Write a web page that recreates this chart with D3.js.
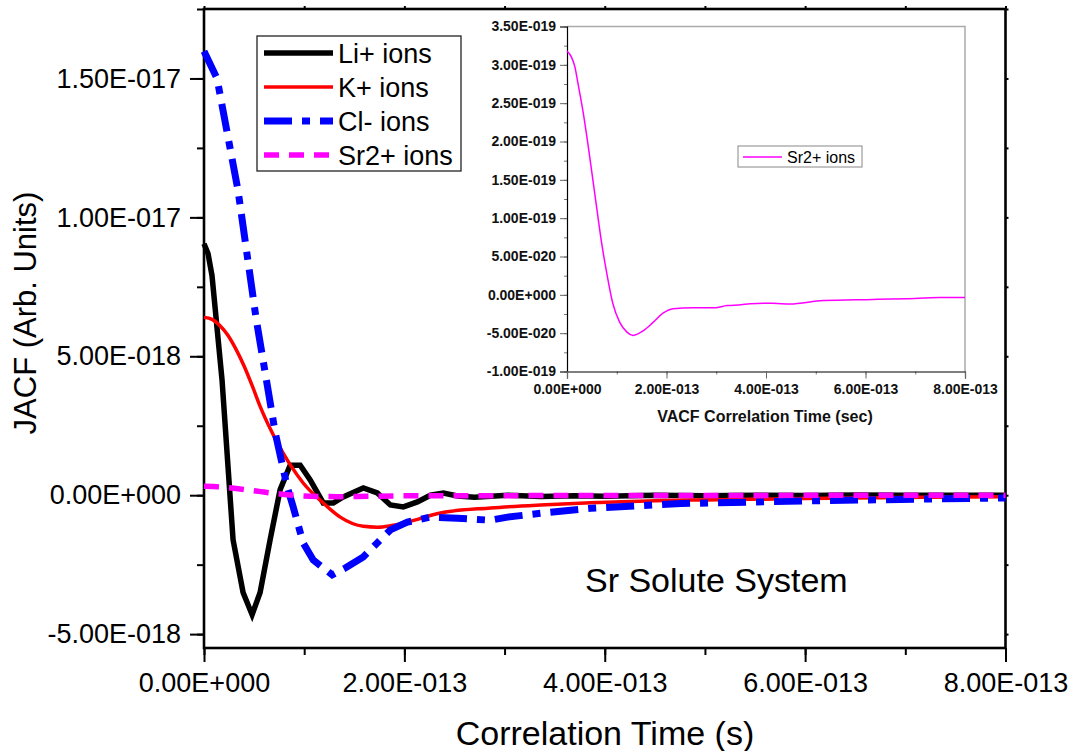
<!DOCTYPE html>
<html>
<head>
<meta charset="utf-8">
<script src="https://cdn.jsdelivr.net/npm/d3@7"></script>
<style>
  html, body { margin: 0; padding: 0; background: #fff; }
  svg { display: block; font-family: Arial, "Liberation Sans", sans-serif; }
</style>
</head>
<body>
<svg id="chart" width="1073" height="751"></svg>
<script>
// ---------------- DATA ----------------
// Main chart: time in fs (1e-15 s), JACF values in units of 1e-18
const liTime = [0, 4, 8, 18, 29, 39, 48, 56, 66, 76, 86, 96, 106, 119, 129, 139, 159, 173, 186, 199, 213, 226, 239, 253, 270, 303, 336, 370, 400, 450, 500, 550, 600, 650, 700, 750, 800];
const liVals = [9.05, 8.7, 7.9, 4.15, -1.6, -3.5, -4.3, -3.5, -1.6, 0.2, 1.08, 1.08, 0.55, -0.28, -0.28, -0.06, 0.26, 0.08, -0.35, -0.42, -0.24, 0.0, 0.08, -0.03, -0.07, 0.0, -0.05, -0.02, -0.04, 0.0, -0.02, 0.0, -0.01, 0.01, 0.0, 0.0, 0.0];

const kTime = [0, 8, 16, 24, 32, 40, 48, 56, 66, 76, 86, 99, 119, 136, 159, 173, 186, 203, 236, 286, 336, 386, 450, 500, 600, 700, 800];
const kVals = [6.40, 6.33, 6.1, 5.75, 5.25, 4.65, 3.95, 3.2, 2.4, 1.7, 1.1, 0.44, -0.28, -0.79, -1.12, -1.15, -1.10, -0.97, -0.64, -0.46, -0.35, -0.27, -0.2, -0.17, -0.12, -0.08, -0.06];

const clTime = [0, 13, 34, 52, 71, 83, 89, 99, 109, 128, 141, 159, 186, 203, 226, 253, 286, 303, 336, 386, 476, 609, 793, 800];
const clVals = [15.98, 15.0, 10.96, 6.36, 2.27, 0.3, -0.42, -1.72, -2.33, -2.87, -2.62, -2.22, -1.25, -0.97, -0.79, -0.83, -0.9, -0.79, -0.65, -0.47, -0.3, -0.2, -0.1, -0.1];

// Sr2+ VACF: time in fs, values in units of 1e-20 (inset); same series in the main chart
const srTime = [0, 9, 16, 22, 32, 42, 52, 60, 70, 80, 92, 106, 121, 133, 153, 173, 193, 213, 253, 293, 322, 350, 368, 414, 448, 515, 615, 682, 748, 800];
const srVals = [31.8, 31.0, 29.7, 27.6, 24.0, 19.7, 15.0, 11.2, 6.6, 2.8, -1.1, -3.6, -4.9, -5.3, -4.7, -3.6, -2.4, -1.8, -1.7, -1.7, -1.4, -1.3, -1.15, -1.1, -1.2, -0.75, -0.6, -0.5, -0.35, -0.35];

const seriesNames = ["Li+ ions", "K+ ions", "Cl- ions", "Sr2+ ions"];

// Tick labels
const xTickVals = [0, 200, 400, 600, 800];
const xTickLabels = ["0.00E+000", "2.00E-013", "4.00E-013", "6.00E-013", "8.00E-013"];
const yTickVals = [-5, 0, 5, 10, 15];
const yTickLabels = ["-5.00E-018", "0.00E+000", "5.00E-018", "1.00E-017", "1.50E-017"];
const insetYTickVals = [-10, -5, 0, 5, 10, 15, 20, 25, 30, 35];
const insetYTickLabels = ["-1.00E-019", "-5.00E-020", "0.00E+000", "5.00E-020", "1.00E-019", "1.50E-019", "2.00E-019", "2.50E-019", "3.00E-019", "3.50E-019"];

// ---------------- DRAW ----------------
const svg = d3.select("#chart");

// Main scales
const x = d3.scaleLinear().domain([0, 800]).range([204, 1005.5]);
const y = d3.scaleLinear().domain([-5.5, 17.5]).range([648, 9]);

const minorX = d3.range(0, 801, 100);
const minorY = d3.range(-5, 17.6, 2.5);

// Left axis: minor ticks
svg.append("g").attr("transform", `translate(${x(0)},0)`)
  .call(d3.axisLeft(y).tickValues(minorY).tickSize(7).tickFormat(""))
  .call(g => g.select(".domain").remove())
  .call(g => g.selectAll("line").attr("stroke", "#000").attr("stroke-width", 2));
// Left axis: major ticks + labels
svg.append("g").attr("transform", `translate(${x(0)},0)`)
  .call(d3.axisLeft(y).tickValues(yTickVals).tickSize(14).tickPadding(9)
    .tickFormat((d, i) => yTickLabels[i]))
  .call(g => g.select(".domain").remove())
  .call(g => g.selectAll("line").attr("stroke", "#000").attr("stroke-width", 2))
  .call(g => g.selectAll("text").attr("font-size", 27).attr("fill", "#000")
    .attr("font-family", "Arial, 'Liberation Sans', sans-serif"));

// Bottom axis: minor + major
svg.append("g").attr("transform", `translate(0,${y.range()[0]})`)
  .call(d3.axisBottom(x).tickValues(minorX).tickSize(7).tickFormat(""))
  .call(g => g.select(".domain").remove())
  .call(g => g.selectAll("line").attr("stroke", "#000").attr("stroke-width", 2));
svg.append("g").attr("transform", `translate(0,${y.range()[0]})`)
  .call(d3.axisBottom(x).tickValues(xTickVals).tickSize(14).tickPadding(11)
    .tickFormat((d, i) => xTickLabels[i]))
  .call(g => g.select(".domain").remove())
  .call(g => g.selectAll("line").attr("stroke", "#000").attr("stroke-width", 2))
  .call(g => g.selectAll("text").attr("font-size", 27).attr("fill", "#000")
    .attr("font-family", "Arial, 'Liberation Sans', sans-serif"));

// Top and right mirror ticks (small)
svg.append("g").attr("transform", `translate(0,${y.range()[1]})`)
  .call(d3.axisTop(x).tickValues(minorX).tickSize(3).tickFormat(""))
  .call(g => g.select(".domain").remove())
  .call(g => g.selectAll("line").attr("stroke", "#000").attr("stroke-width", 2));
svg.append("g").attr("transform", `translate(${x.range()[1]},0)`)
  .call(d3.axisRight(y).tickValues(minorY).tickSize(3).tickFormat(""))
  .call(g => g.select(".domain").remove())
  .call(g => g.selectAll("line").attr("stroke", "#000").attr("stroke-width", 2));

// Frame
svg.append("rect")
  .attr("x", x.range()[0]).attr("y", y.range()[1])
  .attr("width", x.range()[1] - x.range()[0]).attr("height", y.range()[0] - y.range()[1])
  .attr("fill", "none").attr("stroke", "#000").attr("stroke-width", 2.6);

// Axis titles
svg.append("text").attr("x", 605).attr("y", 745).attr("text-anchor", "middle")
  .attr("font-size", 34).attr("fill", "#000").text("Correlation Time (s)");
svg.append("text").attr("transform", "translate(36,313) rotate(-90)").attr("text-anchor", "middle")
  .attr("font-size", 31).attr("fill", "#000").text("JACF (Arb. Units)");

// Annotation
svg.append("text").attr("x", 585).attr("y", 592).attr("font-size", 34).attr("fill", "#000")
  .text("Sr Solute System");

// Main lines
const mkLine = (xs, ys, curve, scale) => d3.line()
  .x((d, i) => x(xs[i])).y((d, i) => y(ys[i] * scale)).curve(curve);

const styles = [
  { color: "#000000", width: 5.5, dash: null },
  { color: "#ff0000", width: 3.5, dash: null },
  { color: "#0000ff", width: 7, dash: "28,10,8,10" },
  { color: "#ff00ff", width: 5.5, dash: "15,10" }
];

const mainSeries = [
  { t: liTime, v: liVals, curve: d3.curveLinear, scale: 1 },
  { t: kTime, v: kVals, curve: d3.curveMonotoneX, scale: 1 },
  { t: clTime, v: clVals, curve: d3.curveLinear, scale: 1 },
  { t: srTime, v: srVals, curve: d3.curveMonotoneX, scale: 0.01 }
];

mainSeries.forEach((s, k) => {
  svg.append("path")
    .attr("d", mkLine(s.t, s.v, s.curve, s.scale)(s.t))
    .attr("fill", "none")
    .attr("stroke", styles[k].color)
    .attr("stroke-width", styles[k].width)
    .attr("stroke-dasharray", styles[k].dash)
    .attr("stroke-linejoin", "miter")
    .attr("stroke-linecap", "butt");
});

// Main legend
const lg = svg.append("g");
lg.append("rect").attr("x", 257).attr("y", 36).attr("width", 204).attr("height", 135)
  .attr("fill", "#fff").attr("stroke", "#222").attr("stroke-width", 1.3);
const legY = [53, 87, 121, 155];
seriesNames.forEach((name, k) => {
  lg.append("line").attr("x1", 264).attr("x2", 333).attr("y1", legY[k]).attr("y2", legY[k])
    .attr("stroke", styles[k].color).attr("stroke-width", styles[k].width)
    .attr("stroke-dasharray", styles[k].dash);
  lg.append("text").attr("x", 338).attr("y", legY[k] + 10).attr("font-size", 27)
    .attr("fill", "#000").text(name);
});

// ---------------- INSET ----------------
const ix = d3.scaleLinear().domain([0, 800]).range([567, 965]);
const iy = d3.scaleLinear().domain([-10, 35]).range([371.5, 26.5]);
const ins = svg.append("g");

// Top/right border (gray)
ins.append("path")
  .attr("d", `M${ix(0)},${iy(35)}H${ix(800)}V${iy(-10)}`)
  .attr("fill", "none").attr("stroke", "#aaa").attr("stroke-width", 1.5);

// Y axis
ins.append("g").attr("transform", `translate(${ix(0)},0)`)
  .call(d3.axisLeft(iy).tickValues(d3.range(-10, 35.1, 2.5)).tickSize(3).tickFormat(""))
  .call(g => g.select(".domain").remove())
  .call(g => g.selectAll("line").attr("stroke", "#777"));
ins.append("g").attr("transform", `translate(${ix(0)},0)`)
  .call(d3.axisLeft(iy).tickValues(insetYTickVals).tickSize(7).tickPadding(4)
    .tickFormat((d, i) => insetYTickLabels[i]))
  .call(g => g.select(".domain").attr("stroke", "#000").attr("stroke-width", 1.2))
  .call(g => g.selectAll("line").attr("stroke", "#666"))
  .call(g => g.selectAll("text").attr("font-size", 14).attr("font-weight", "bold").attr("fill", "#111")
    .attr("font-family", "Arial, 'Liberation Sans', sans-serif"));

// X axis
ins.append("g").attr("transform", `translate(0,${iy(-10)})`)
  .call(d3.axisBottom(ix).tickValues(minorX).tickSize(3).tickFormat(""))
  .call(g => g.select(".domain").remove())
  .call(g => g.selectAll("line").attr("stroke", "#777"));
ins.append("g").attr("transform", `translate(0,${iy(-10)})`)
  .call(d3.axisBottom(ix).tickValues(xTickVals).tickSize(7).tickPadding(6)
    .tickFormat((d, i) => xTickLabels[i]))
  .call(g => g.select(".domain").attr("stroke", "#000").attr("stroke-width", 1.2))
  .call(g => g.selectAll("line").attr("stroke", "#666"))
  .call(g => g.selectAll("text").attr("font-size", 14).attr("font-weight", "bold").attr("fill", "#111")
    .attr("font-family", "Arial, 'Liberation Sans', sans-serif"));

ins.append("text").attr("x", 765).attr("y", 422).attr("text-anchor", "middle")
  .attr("font-size", 16).attr("font-weight", "bold").attr("fill", "#111")
  .text("VACF Correlation Time (sec)");

// Inset curve
ins.append("path")
  .attr("d", d3.line().x((d, i) => ix(srTime[i])).y((d, i) => iy(srVals[i])).curve(d3.curveMonotoneX)(srTime))
  .attr("fill", "none").attr("stroke", "#ff00ff").attr("stroke-width", 1.5);

// Inset legend
ins.append("rect").attr("x", 738).attr("y", 146).attr("width", 124).attr("height", 21)
  .attr("fill", "#fff").attr("stroke", "#888").attr("stroke-width", 1);
ins.append("line").attr("x1", 743).attr("x2", 782).attr("y1", 157).attr("y2", 157)
  .attr("stroke", "#ff00ff").attr("stroke-width", 1.5);
ins.append("text").attr("x", 787).attr("y", 163).attr("font-size", 16).attr("fill", "#000")
  .text(seriesNames[3]);
</script>
</body>
</html>
